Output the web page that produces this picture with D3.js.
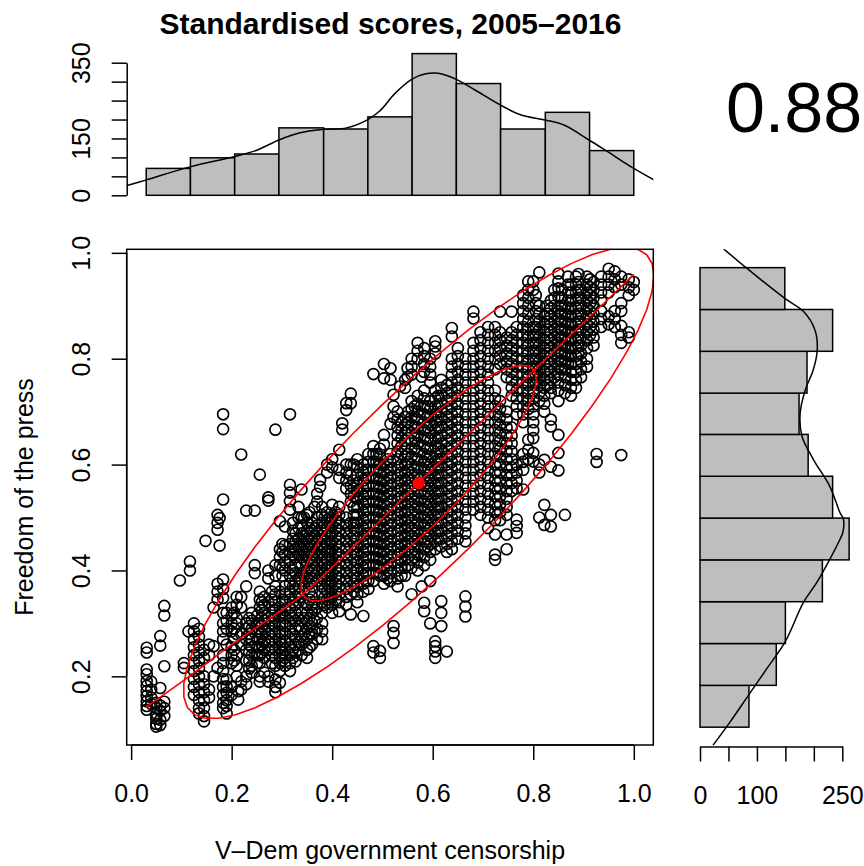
<!DOCTYPE html>
<html><head><meta charset="utf-8">
<script src="https://cdn.jsdelivr.net/npm/d3@7"></script>
<style>
body{margin:0;background:#fff}
svg{display:block}
text{font-family:"Liberation Sans",Arial,Helvetica,sans-serif;fill:#000}
</style>
</head><body>
<svg id="c" width="864" height="866"></svg>
<script>
// ---------- text ----------
const titleText = "Standardised scores, 2005\u20132016";
const xLabel = "V\u2013Dem government censorship";
const yLabel = "Freedom of the press";
const corrLabel = "0.88";

// ---------- axes ----------
const xTicks = [0, 0.2, 0.4, 0.6, 0.8, 1.0];
const yTicks = [0.2, 0.4, 0.6, 0.8, 1.0];
const topTicks = [0, 50, 100, 150, 200, 250, 300, 350];
const topTickLabels = [0, 150, 350];
const rightTicks = [0, 50, 100, 150, 200, 250];
const rightTickLabels = [0, 100, 250];

// data ranges (min, max of the two variables)
const xRange = [0.03, 1.0];
const yRange = [0.105, 0.972];

// ---------- histograms ----------
const xBreaks = [0.030, 0.118, 0.206, 0.294, 0.383, 0.471, 0.559, 0.647, 0.735, 0.824, 0.912, 1.000];
const xCounts = [71, 99, 109, 178, 175, 207, 374, 295, 175, 219, 118];
const yBreaks = [0.104, 0.183, 0.262, 0.341, 0.420, 0.499, 0.578, 0.657, 0.735, 0.814, 0.893, 0.972];
const yCounts = [86, 134, 150, 215, 262, 233, 190, 174, 188, 233, 149];

// density curves (scaled to counts)
const topDensX = [-0.01, 0.029, 0.117, 0.205, 0.25, 0.294, 0.336, 0.382, 0.429, 0.47, 0.495, 0.525, 0.558, 0.584, 0.611, 0.647, 0.684, 0.735, 0.776, 0.823, 0.862, 0.911, 0.948, 1.0, 1.041];
const topDensC = [25, 40, 75, 102, 119, 146, 165, 174, 178, 199, 223, 269, 306, 320, 322, 306, 278, 238, 212, 199, 185, 146, 115, 71, 40];
const rightDensY = [1.008, 0.971, 0.914, 0.889, 0.854, 0.817, 0.779, 0.741, 0.698, 0.654, 0.61, 0.559, 0.509, 0.497, 0.472, 0.459, 0.421, 0.377, 0.34, 0.264, 0.214, 0.164, 0.114, 0.07];
const rightDensC = [41, 82, 149, 182, 202, 206, 199, 185, 176, 179, 199, 228, 246, 252, 251, 246, 228, 205, 182, 149, 117, 85, 53, 23];

// ---------- summary statistics (ellipses) ----------
const meanXY = [0.572, 0.565];
const sdXY = [0.234, 0.2225];
const corrR = 0.88;
const ellipseSizes = [1, 2];

// lowess smooth
const smoothX = [0.03, 0.104, 0.2, 0.341, 0.45, 0.572, 0.7, 0.799, 0.9, 1.0];
const smoothY = [0.142, 0.192, 0.26, 0.355, 0.452, 0.566, 0.684, 0.776, 0.868, 0.959];

// ---------- scatter points: [x, [y values]] ----------
const pointCols = [
[0.031,[0.254,0.245,0.213,0.204,0.191,0.182,0.172,0.163,0.153,0.144,0.137]],
[0.04,[0.19,0.175,0.16,0.148]],
[0.05,[0.15,0.14,0.13,0.12,0.11,0.105,0.125]],
[0.058,[0.276,0.258,0.178,0.145,0.135,0.118,0.108]],
[0.066,[0.333,0.315,0.219,0.152,0.14,0.125]],
[0.097,[0.381]],
[0.105,[0.225,0.216]],
[0.114,[0.285]],
[0.117,[0.417,0.4]],
[0.125,[0.3,0.285,0.27,0.255,0.24,0.225,0.21,0.195,0.18,0.165]],
[0.135,[0.29,0.275,0.26,0.245,0.23,0.215,0.2,0.185,0.17,0.155,0.14,0.13]],
[0.145,[0.25,0.235,0.2,0.185,0.17,0.155,0.14,0.125,0.115]],
[0.148,[0.456]],
[0.155,[0.26,0.24,0.175,0.16]],
[0.164,[0.33,0.257,0.2]],
[0.172,[0.505,0.49,0.477,0.375,0.36,0.345,0.216]],
[0.176,[0.499,0.447]],
[0.183,[0.695,0.667,0.534,0.383,0.365,0.348,0.32,0.3,0.285,0.27,0.24,0.225,0.21,0.195,0.18,0.165,0.15,0.14]],
[0.19,[0.32,0.305,0.29,0.26,0.194,0.181,0.169,0.155,0.144,0.13]],
[0.2,[0.33,0.315,0.3,0.285,0.255,0.24,0.225,0.18,0.165]],
[0.205,[0.32,0.29,0.27,0.25,0.23]],
[0.21,[0.35,0.335,0.31,0.3,0.28,0.24,0.22,0.2]],
[0.213,[0.172,0.156]],
[0.219,[0.619,0.35,0.33,0.28,0.26,0.19,0.175]],
[0.229,[0.513,0.37,0.3,0.29,0.27,0.25,0.23,0.2,0.185]],
[0.235,[0.31,0.295,0.28,0.26,0.245,0.23,0.215]],
[0.24,[0.32,0.305,0.29,0.27,0.255,0.24,0.22,0.207]],
[0.246,[0.513,0.41,0.395]],
[0.251,[0.315,0.3,0.285,0.27,0.255,0.24,0.225]],
[0.256,[0.581,0.36,0.345,0.33,0.3,0.285,0.27,0.255,0.24,0.225,0.2,0.19]],
[0.26,[0.34,0.325,0.31,0.295,0.28,0.26,0.245]],
[0.265,[0.35,0.335,0.32,0.305,0.29,0.265,0.25,0.235,0.207]],
[0.273,[0.538,0.532,0.4,0.385,0.34,0.31,0.295,0.28,0.265,0.25,0.2,0.19]],
[0.28,[0.36,0.345,0.33,0.315,0.3,0.285,0.27,0.255,0.24,0.225]],
[0.287,[0.666,0.41,0.39,0.37,0.355,0.34,0.325,0.31,0.295,0.28,0.265,0.25,0.235,0.22,0.194,0.18,0.17]],
[0.296,[0.493,0.44,0.425,0.41,0.36,0.33,0.315,0.3,0.285,0.27,0.255,0.24,0.225,0.21,0.188]],
[0.301,[0.45,0.435,0.405,0.39,0.345,0.32,0.3,0.26,0.245,0.23]],
[0.306,[0.483,0.447,0.43,0.415,0.4,0.37,0.355,0.34,0.325,0.31,0.295,0.28,0.265,0.25,0.235,0.22]],
[0.316,[0.695,0.562,0.547,0.531,0.515,0.45,0.435,0.42,0.405,0.39,0.375,0.36,0.345,0.33,0.315,0.3,0.285,0.27,0.255,0.24,0.225,0.21]],
[0.322,[0.49,0.475,0.46,0.445,0.43,0.4,0.37,0.34,0.31,0.28,0.25,0.235]],
[0.327,[0.47,0.455,0.44,0.425,0.41,0.395,0.38,0.365,0.35,0.335,0.32,0.305,0.29,0.275,0.26,0.245,0.228]],
[0.333,[0.52,0.5,0.48,0.46,0.445,0.43,0.385,0.37,0.355,0.34,0.31,0.295,0.265,0.25]],
[0.339,[0.553,0.5,0.485,0.47,0.455,0.44,0.425,0.41,0.395,0.38,0.35,0.32,0.305,0.29,0.275,0.26,0.24]],
[0.344,[0.5,0.465,0.45,0.435,0.42,0.39,0.37,0.34,0.31,0.28,0.265]],
[0.35,[0.505,0.49,0.475,0.46,0.445,0.43,0.415,0.4,0.385,0.335,0.32,0.305,0.29,0.27,0.25,0.235]],
[0.355,[0.51,0.48,0.465,0.45,0.435,0.42,0.39,0.375,0.36,0.345,0.31,0.295,0.28,0.255]],
[0.36,[0.49,0.475,0.46,0.445,0.43,0.415,0.4,0.385,0.37,0.35,0.335,0.32,0.3,0.28,0.26]],
[0.365,[0.52,0.48,0.465,0.45,0.435,0.42,0.405,0.39,0.34,0.325,0.305,0.285]],
[0.37,[0.545,0.53,0.5,0.485,0.47,0.455,0.44,0.425,0.41,0.395,0.38,0.33,0.31,0.29,0.27]],
[0.376,[0.571,0.558]],
[0.38,[0.52,0.505,0.49,0.475,0.46,0.445,0.43,0.415,0.4,0.385,0.37,0.355,0.34,0.32,0.3,0.285,0.27]],
[0.385,[0.5,0.485,0.47,0.455,0.44,0.425,0.41,0.395,0.38,0.365,0.35,0.335]],
[0.39,[0.6,0.585,0.51,0.495,0.48,0.465,0.45,0.435,0.42,0.405,0.39,0.375,0.36,0.345,0.33]],
[0.395,[0.5,0.49,0.47,0.455,0.44,0.43,0.41,0.4,0.38,0.37,0.35,0.34]],
[0.4,[0.61,0.595,0.524,0.5,0.485,0.47,0.455,0.44,0.425,0.41,0.395,0.38,0.365,0.35,0.335,0.32]],
[0.407,[0.51,0.495,0.48,0.465,0.45,0.435,0.42,0.405,0.39,0.375,0.36,0.345]],
[0.414,[0.628,0.59,0.575,0.52,0.505,0.49,0.475,0.46,0.445,0.43,0.415,0.4,0.385,0.37,0.355,0.34,0.323]],
[0.42,[0.678,0.666]],
[0.428,[0.716,0.703,0.6,0.585,0.57,0.555,0.5,0.485,0.47,0.455,0.44,0.425,0.41,0.395,0.38,0.365,0.35,0.335]],
[0.437,[0.734,0.716,0.6,0.58,0.56,0.545,0.53,0.49,0.475,0.46,0.445,0.43,0.415,0.4,0.385,0.37,0.355,0.317]],
[0.443,[0.6,0.57,0.555,0.54,0.52,0.505,0.49,0.48,0.465,0.45,0.435,0.42,0.405,0.39,0.375,0.36]],
[0.45,[0.61,0.595,0.58,0.565,0.55,0.535,0.52,0.505,0.49,0.475,0.46,0.445,0.43,0.415,0.4,0.385,0.37,0.355,0.34]],
[0.462,[0.6,0.585,0.57,0.555,0.54,0.525,0.51,0.495,0.48,0.465,0.45,0.435,0.42,0.405,0.39,0.375,0.36,0.314]],
[0.467,[0.59,0.575,0.56,0.545,0.53,0.515,0.5,0.485,0.47,0.455,0.44,0.425,0.41,0.395,0.38]],
[0.472,[0.62,0.605,0.59,0.575,0.56,0.545,0.53,0.515,0.5,0.485,0.47,0.455,0.44,0.425,0.41,0.395,0.38,0.365]],
[0.482,[0.771,0.635,0.62,0.605,0.59,0.575,0.56,0.545,0.53,0.515,0.5,0.485,0.47,0.455,0.44,0.425,0.41,0.395,0.38,0.257,0.245]],
[0.488,[0.62,0.605,0.59,0.575,0.56,0.545,0.53,0.515,0.5,0.485,0.47,0.455,0.44,0.425,0.41,0.395]],
[0.495,[0.63,0.615,0.6,0.585,0.57,0.555,0.54,0.525,0.51,0.495,0.48,0.465,0.45,0.435,0.42,0.405,0.39,0.248,0.235]],
[0.503,[0.79,0.763,0.656,0.638,0.6,0.585,0.57,0.555,0.54,0.525,0.51,0.495,0.48,0.465,0.45,0.435,0.42,0.405,0.39,0.375]],
[0.51,[0.61,0.595,0.58,0.565,0.55,0.535,0.52,0.505,0.49,0.475,0.46,0.445,0.43,0.415,0.4,0.385]],
[0.516,[0.782,0.76,0.677,0.62,0.605,0.59,0.575,0.56,0.545,0.53,0.515,0.5,0.485,0.47,0.455,0.44,0.425,0.41,0.395,0.38]],
[0.522,[0.732,0.71,0.69,0.295,0.282,0.263]],
[0.53,[0.7,0.685,0.67,0.655,0.64,0.625,0.61,0.595,0.58,0.565,0.55,0.535,0.52,0.505,0.49,0.475,0.46,0.445,0.43,0.415,0.4,0.385,0.37]],
[0.535,[0.748]],
[0.538,[0.68,0.665,0.65,0.635,0.62,0.6,0.585,0.57,0.555,0.54,0.525,0.51,0.495,0.48,0.465,0.45,0.435,0.42,0.405,0.39]],
[0.545,[0.76,0.745,0.69,0.675,0.66,0.645,0.63,0.615,0.6,0.585,0.57,0.555,0.54,0.525,0.51,0.495,0.48,0.465,0.45,0.435,0.42,0.405,0.39]],
[0.55,[0.782,0.766]],
[0.551,[0.7,0.68,0.665,0.65,0.62,0.605,0.59,0.575,0.56,0.545,0.53,0.515,0.5,0.485,0.47,0.455,0.44,0.425,0.41]],
[0.558,[0.8,0.785,0.77,0.72,0.705,0.69,0.675,0.66,0.645,0.63,0.615,0.6,0.585,0.57,0.555,0.54,0.525,0.51,0.495,0.48,0.465,0.45,0.435,0.42,0.405,0.355]],
[0.564,[0.71,0.69,0.67,0.65,0.63,0.61,0.59,0.575,0.56,0.545,0.53,0.515,0.5,0.485,0.47,0.455,0.44,0.425]],
[0.57,[0.83,0.815,0.8,0.73,0.715,0.7,0.685,0.67,0.655,0.64,0.625,0.61,0.595,0.58,0.565,0.55,0.535,0.52,0.505,0.49,0.475,0.46,0.445,0.43,0.415,0.4]],
[0.578,[0.766,0.37]],
[0.583,[0.82,0.805,0.79,0.775,0.74,0.725,0.71,0.695,0.68,0.665,0.65,0.635,0.62,0.605,0.59,0.575,0.56,0.545,0.53,0.515,0.5,0.485,0.47,0.455,0.44,0.425,0.41,0.339,0.323]],
[0.59,[0.71,0.69,0.67,0.65,0.63,0.61,0.595,0.58,0.565,0.55,0.535,0.52,0.505,0.49,0.475,0.46,0.445]],
[0.595,[0.8,0.785,0.77,0.755,0.72,0.705,0.69,0.675,0.66,0.645,0.63,0.615,0.6,0.585,0.57,0.555,0.54,0.525,0.51,0.495,0.48,0.465,0.45,0.435,0.42,0.38,0.3]],
[0.605,[0.833,0.823,0.81,0.74,0.725,0.71,0.695,0.68,0.665,0.65,0.635,0.62,0.605,0.59,0.575,0.56,0.545,0.53,0.515,0.5,0.485,0.47,0.455,0.44,0.266,0.257,0.247,0.235]],
[0.611,[0.73,0.71,0.69,0.67,0.65,0.63,0.61,0.595,0.58,0.565,0.55,0.535,0.52,0.505,0.49,0.475,0.46]],
[0.617,[0.76,0.745,0.73,0.715,0.7,0.685,0.67,0.655,0.64,0.625,0.61,0.595,0.58,0.565,0.55,0.535,0.52,0.505,0.49,0.475,0.46,0.445,0.342,0.32,0.295]],
[0.628,[0.75,0.735,0.72,0.705,0.69,0.675,0.66,0.645,0.63,0.615,0.6,0.585,0.57,0.555,0.54,0.525,0.51,0.495,0.48,0.465,0.45,0.435,0.247]],
[0.638,[0.858,0.842,0.8,0.785,0.77,0.755,0.74,0.725,0.71,0.695,0.68,0.665,0.65,0.635,0.62,0.605,0.59,0.575,0.56,0.545,0.53,0.515,0.5,0.485,0.47,0.455,0.44]],
[0.65,[0.82,0.805,0.79,0.775,0.76,0.745,0.73,0.715,0.7,0.685,0.67,0.655,0.64,0.625,0.61,0.595,0.58,0.565,0.55,0.535,0.52,0.505,0.49,0.475,0.46]],
[0.665,[0.8,0.785,0.77,0.755,0.74,0.725,0.71,0.695,0.68,0.665,0.65,0.635,0.62,0.605,0.59,0.575,0.56,0.545,0.53,0.515,0.5,0.485,0.47,0.455,0.351,0.332,0.313]],
[0.681,[0.889,0.876,0.83,0.815,0.8,0.785,0.77,0.755,0.74,0.725,0.71,0.695,0.68,0.665,0.65,0.635,0.62,0.605,0.59,0.575,0.56,0.545,0.53,0.515]],
[0.695,[0.85,0.835,0.82,0.805,0.79,0.775,0.76,0.745,0.73,0.715,0.7,0.685,0.67,0.655,0.64,0.625,0.61,0.595,0.58,0.565,0.55,0.535,0.52,0.505]],
[0.71,[0.86,0.845,0.83,0.815,0.8,0.785,0.77,0.755,0.74,0.725,0.71,0.695,0.68,0.665,0.65,0.635,0.62,0.605,0.59,0.575,0.56,0.545,0.53,0.515,0.5,0.48]],
[0.724,[0.86,0.845,0.83,0.815,0.8,0.78,0.74,0.725,0.71,0.695,0.68,0.665,0.65,0.635,0.62,0.6,0.585,0.57,0.555,0.54,0.525,0.51,0.495,0.468,0.43,0.42]],
[0.734,[0.889,0.85,0.835,0.82,0.805,0.79,0.72,0.705,0.69,0.675,0.66,0.645,0.63,0.615,0.6,0.585,0.57,0.555,0.54,0.525,0.51,0.495]],
[0.747,[0.84,0.825,0.81,0.795,0.78,0.765,0.7,0.685,0.67,0.655,0.64,0.625,0.61,0.595,0.58,0.565,0.55,0.535,0.52,0.505,0.468,0.44]],
[0.757,[0.889,0.85,0.835,0.82,0.805,0.79,0.775,0.76,0.745,0.73,0.67,0.655,0.64,0.625,0.61,0.595,0.58,0.565,0.55]],
[0.767,[0.86,0.845,0.83,0.815,0.8,0.785,0.77,0.755,0.74,0.725,0.71,0.695,0.6,0.585,0.57,0.555,0.496,0.484,0.471]],
[0.78,[0.92,0.905,0.89,0.875,0.86,0.845,0.83,0.815,0.8,0.785,0.77,0.755,0.74,0.725,0.71,0.695,0.68,0.62,0.605,0.59,0.553]],
[0.79,[0.946,0.93,0.915,0.9,0.885,0.87,0.855,0.84,0.825,0.81,0.795,0.78,0.765,0.75,0.735,0.72,0.705,0.647,0.628,0.61]],
[0.8,[0.946,0.93,0.86,0.845,0.83,0.815,0.8,0.785,0.77,0.755,0.74,0.725,0.71,0.695,0.68,0.665,0.65,0.622,0.606]],
[0.805,[0.92,0.905,0.89,0.875,0.86,0.845,0.83,0.815,0.8,0.785,0.77,0.755]],
[0.812,[0.963,0.9,0.885,0.87,0.855,0.84,0.825,0.81,0.795,0.78,0.765,0.75,0.735,0.72,0.6,0.585,0.5]],
[0.822,[0.88,0.865,0.85,0.835,0.82,0.805,0.79,0.775,0.76,0.745,0.73,0.715,0.7,0.609,0.524,0.486]],
[0.828,[0.9,0.885,0.87,0.855,0.84,0.825,0.81,0.795,0.78,0.765,0.75]],
[0.835,[0.91,0.895,0.88,0.865,0.85,0.835,0.82,0.805,0.79,0.775,0.76,0.745,0.735,0.685,0.672,0.596,0.505,0.483]],
[0.842,[0.93,0.915,0.9,0.885,0.87,0.855,0.84,0.825,0.81,0.795,0.78,0.765]],
[0.85,[0.961,0.946,0.933,0.917,0.89,0.875,0.86,0.845,0.83,0.815,0.8,0.785,0.77,0.755,0.74,0.72,0.656,0.622,0.589]],
[0.857,[0.93,0.915,0.9,0.885,0.87,0.855,0.84,0.825,0.81,0.795,0.78]],
[0.863,[0.9,0.885,0.87,0.855,0.84,0.825,0.81,0.795,0.78,0.765,0.75,0.735,0.505]],
[0.869,[0.955,0.94,0.925,0.91,0.895,0.88,0.865,0.85,0.835,0.82,0.805,0.79]],
[0.875,[0.94,0.925,0.91,0.895,0.88,0.865,0.85,0.835,0.82,0.805,0.79,0.775,0.76,0.745,0.73]],
[0.885,[0.955,0.94,0.925,0.91,0.895,0.88,0.865,0.85,0.835,0.82,0.805,0.79,0.775,0.76,0.745]],
[0.89,[0.96,0.945,0.93,0.915,0.9,0.885,0.87,0.855,0.84,0.825,0.81]],
[0.895,[0.93,0.915,0.9,0.885,0.87,0.855,0.84,0.825,0.81,0.795,0.78,0.765]],
[0.907,[0.955,0.94,0.925,0.91,0.895,0.88,0.865,0.85,0.835,0.82,0.8,0.785]],
[0.913,[0.95,0.935,0.92,0.905,0.89,0.875,0.86,0.845]],
[0.92,[0.945,0.93,0.915,0.9,0.885,0.87,0.855,0.84,0.825]],
[0.926,[0.62,0.605]],
[0.935,[0.955,0.94,0.925,0.91,0.89,0.875,0.86]],
[0.95,[0.97,0.955,0.94,0.925,0.88,0.865]],
[0.962,[0.965,0.95,0.935,0.89,0.875,0.86]],
[0.975,[0.955,0.94,0.905,0.89,0.862,0.845,0.83,0.618]],
[0.99,[0.95,0.935,0.92,0.85,0.84]],
[1.0,[0.945,0.93]]
];

// ---------- layout ----------
const svg = d3.select("#c");
const ext = r => [r[0] - 0.04 * (r[1] - r[0]), r[1] + 0.04 * (r[1] - r[0])];
const PL = 126.7, PR = 653.3, PT = 249.3, PB = 745;
const x = d3.scaleLinear().domain(ext(xRange)).range([PL, PR]);
const y = d3.scaleLinear().domain(ext(yRange)).range([PB, PT]);
const cTop = d3.scaleLinear().domain([0, 350]).range([195.3, 62.7]);
const cRight = d3.scaleLinear().domain([0, 250]).range([700, 842.3]);

const defs = svg.append("defs");
defs.append("clipPath").attr("id", "clipMain").append("rect")
  .attr("x", PL).attr("y", PT).attr("width", PR - PL).attr("height", PB - PT);
defs.append("clipPath").attr("id", "clipTop").append("rect")
  .attr("x", PL).attr("y", 0).attr("width", PR - PL).attr("height", 240);
defs.append("clipPath").attr("id", "clipRight").append("rect")
  .attr("x", 660).attr("y", PT).attr("width", 204).attr("height", PB - PT + 2);

const LW = 1.5;

// ---------- title ----------
svg.append("text").attr("x", 390.5).attr("y", 34).attr("text-anchor", "middle")
  .style("font-size", "30px").style("font-weight", "bold").text(titleText);

// ---------- top histogram ----------
const topBars = xCounts.map((c, i) => ({x0: xBreaks[i], x1: xBreaks[i + 1], c}));
svg.append("g").selectAll("rect").data(topBars).join("rect")
  .attr("x", d => x(d.x0)).attr("width", d => x(d.x1) - x(d.x0))
  .attr("y", d => cTop(d.c)).attr("height", d => cTop(0) - cTop(d.c))
  .attr("fill", "#bebebe").attr("stroke", "#000").attr("stroke-width", LW);
svg.append("path").attr("clip-path", "url(#clipTop)")
  .datum(topDensX.map((v, i) => [v, topDensC[i]]))
  .attr("d", d3.line().x(d => x(d[0])).y(d => cTop(d[1])).curve(d3.curveCatmullRom))
  .attr("fill", "none").attr("stroke", "#000").attr("stroke-width", LW);
const gTop = svg.append("g").attr("transform", `translate(${PL},0)`)
  .call(d3.axisLeft(cTop).tickValues(topTicks).tickSize(15).tickSizeOuter(0)
    .tickFormat(d => topTickLabels.includes(d) ? String(d) : ""));

// ---------- right histogram ----------
const rightBars = yCounts.map((c, i) => ({y0: yBreaks[i], y1: yBreaks[i + 1], c}));
svg.append("g").selectAll("rect").data(rightBars).join("rect")
  .attr("x", cRight(0)).attr("width", d => cRight(d.c) - cRight(0))
  .attr("y", d => y(d.y1)).attr("height", d => y(d.y0) - y(d.y1))
  .attr("fill", "#bebebe").attr("stroke", "#000").attr("stroke-width", LW);
svg.append("path").attr("clip-path", "url(#clipRight)")
  .datum(rightDensY.map((v, i) => [v, rightDensC[i]]))
  .attr("d", d3.line().x(d => cRight(d[1])).y(d => y(d[0])).curve(d3.curveCatmullRom))
  .attr("fill", "none").attr("stroke", "#000").attr("stroke-width", LW);
const gRight = svg.append("g").attr("transform", `translate(0,746.5)`)
  .call(d3.axisBottom(cRight).tickValues(rightTicks).tickSize(15).tickSizeOuter(0)
    .tickFormat(d => rightTickLabels.includes(d) ? String(d) : ""));

// ---------- correlation ----------
svg.append("text").attr("x", 794).attr("y", 131.5).attr("text-anchor", "middle")
  .style("font-size", "70px").text(corrLabel);

// ---------- scatter ----------
const pts = [];
pointCols.forEach(([px, ys]) => ys.forEach(py => pts.push([px, py])));
svg.append("g").attr("clip-path", "url(#clipMain)")
  .selectAll("circle").data(pts).join("circle")
  .attr("cx", d => x(d[0])).attr("cy", d => y(d[1])).attr("r", 5.5)
  .attr("fill", "none").attr("stroke", "#000").attr("stroke-width", 1.65);

// ellipses (psych style)
const gRed = svg.append("g").attr("clip-path", "url(#clipMain)");
const seg = 51;
const th = 1 / Math.sqrt(2);
const d1 = Math.sqrt(1 + corrR), d2 = Math.sqrt(1 - corrR);
ellipseSizes.forEach(R => {
  const e = d3.range(seg + 1).map(k => {
    const a = k * 2 * Math.PI / seg, c = Math.cos(a), s = Math.sin(a);
    return [meanXY[0] + R * sdXY[0] * (c * d1 * th - s * d2 * th),
            meanXY[1] + R * sdXY[1] * (c * d1 * th + s * d2 * th)];
  });
  gRed.append("path").datum(e)
    .attr("d", d3.line().x(d => x(d[0])).y(d => y(d[1])))
    .attr("fill", "none").attr("stroke", "red").attr("stroke-width", 1.6);
});
gRed.append("path").datum(smoothX.map((v, i) => [v, smoothY[i]]))
  .attr("d", d3.line().x(d => x(d[0])).y(d => y(d[1])).curve(d3.curveMonotoneX))
  .attr("fill", "none").attr("stroke", "red").attr("stroke-width", 1.6);
gRed.append("circle").attr("cx", x(meanXY[0])).attr("cy", y(meanXY[1])).attr("r", 6.2).attr("fill", "red");

// box
svg.append("rect").attr("x", PL).attr("y", PT).attr("width", PR - PL).attr("height", PB - PT)
  .attr("fill", "none").attr("stroke", "#000").attr("stroke-width", LW);

// axes
const gx = svg.append("g").attr("transform", `translate(0,${PB})`)
  .call(d3.axisBottom(x).tickValues(xTicks).tickSize(15).tickSizeOuter(0).tickFormat(d3.format(".1f")));
const gy = svg.append("g").attr("transform", `translate(${PL},0)`)
  .call(d3.axisLeft(y).tickValues(yTicks).tickSize(15).tickSizeOuter(0).tickFormat(d3.format(".1f")));

[gx, gRight].forEach(g => g.selectAll(".tick text").attr("y", 57).attr("dy", null));
[gy, gTop].forEach(g => g.selectAll(".tick text")
  .attr("x", 0).attr("dy", null).attr("text-anchor", "middle")
  .attr("transform", "translate(-36.7,0) rotate(-90)"));
[gx, gy, gTop, gRight].forEach(g => {
  g.selectAll("text").style("font-size", "25px")
    .style("font-family", "'Liberation Sans',Arial,Helvetica,sans-serif").attr("fill", "#000");
  g.selectAll("line,path").attr("stroke", "#000").attr("stroke-width", LW);
});
gx.select(".domain").attr("d", `M${x(0)},0H${x(1)}`);
gy.select(".domain").attr("d", `M0,${y(0.2)}V${y(1)}`);

// axis titles
svg.append("text").attr("x", 390).attr("y", 859).attr("text-anchor", "middle")
  .style("font-size", "25px").text(xLabel);
svg.append("text").attr("transform", `translate(33,497) rotate(-90)`).attr("text-anchor", "middle")
  .style("font-size", "25px").text(yLabel);
</script>
</body></html>
